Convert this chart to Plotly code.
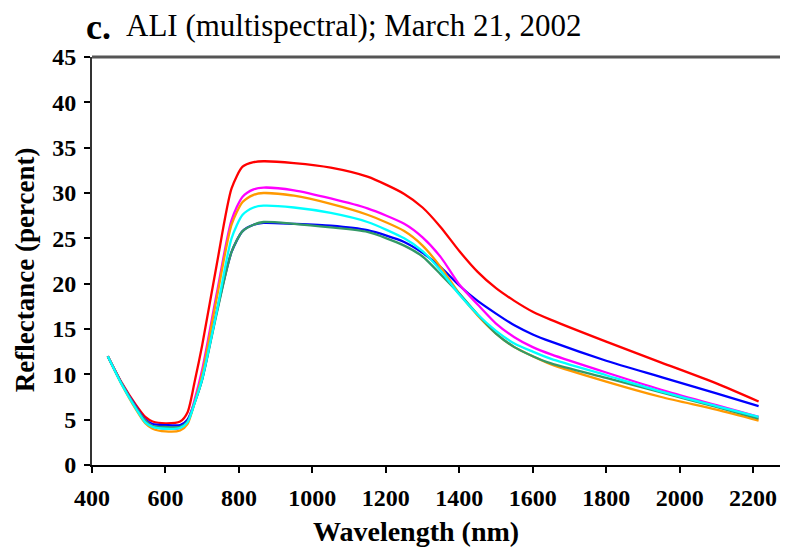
import plotly.graph_objects as go

wavelength = [443, 482, 520, 545, 565, 600, 640, 660, 680, 700, 740, 780, 810, 840, 867,
              950, 1050, 1150, 1250, 1300, 1350, 1400, 1450, 1500, 1550, 1600, 1650,
              1800, 1950, 2100, 2215]

red = [12.0, 9.0, 6.6, 5.3, 4.8, 4.6, 4.8, 5.8, 9.3, 13.2, 22.2, 30.5, 32.9, 33.4, 33.5,
       33.3, 32.8, 31.8, 29.9, 28.4, 26.2, 23.6, 21.3, 19.5, 18.1, 16.9, 16.0,
       13.6, 11.3, 9.0, 7.0]
magenta = [12.0, 8.9, 6.3, 4.9, 4.3, 4.0, 4.1, 4.7, 7.3, 10.5, 19.0, 27.0, 29.6, 30.4, 30.6,
           30.3, 29.4, 28.3, 26.6, 25.1, 22.9, 19.9, 17.7, 15.6, 14.1, 13.0, 12.2,
           10.2, 8.3, 6.6, 5.3]
orange = [12.0, 8.8, 6.1, 4.6, 4.0, 3.7, 3.8, 4.5, 7.0, 10.0, 18.5, 26.5, 29.0, 29.8, 30.0,
          29.7, 28.8, 27.6, 25.8, 24.2, 21.8, 18.9, 16.5, 14.5, 13.0, 12.0, 11.1,
          9.2, 7.5, 6.1, 4.9]
cyan = [12.0, 8.8, 6.2, 4.7, 4.2, 4.0, 4.1, 4.7, 6.9, 9.5, 17.0, 25.0, 27.6, 28.4, 28.6,
        28.4, 27.8, 26.8, 25.0, 23.6, 21.4, 18.8, 16.6, 14.8, 13.4, 12.5, 11.7,
        9.9, 8.1, 6.5, 5.3]
blue = [12.0, 8.9, 6.4, 5.0, 4.5, 4.4, 4.4, 5.0, 7.0, 9.5, 17.0, 23.5, 25.8, 26.5, 26.7,
        26.6, 26.4, 25.9, 24.6, 23.4, 21.8, 19.8, 18.1, 16.7, 15.4, 14.4, 13.6,
        11.5, 9.7, 7.9, 6.5]
green = [12.0, 8.9, 6.3, 4.9, 4.3, 4.2, 4.2, 4.8, 6.9, 9.4, 16.8, 23.5, 25.8, 26.5, 26.8,
         26.6, 26.2, 25.7, 24.2, 23.0, 21.0, 18.9, 16.6, 14.5, 13.0, 12.0, 11.2,
         9.6, 8.0, 6.4, 5.1]

series = [
    ("Red", red, "#FF0000"),
    ("Blue", blue, "#0000FF"),
    ("Magenta", magenta, "#FF00FF"),
    ("Orange", orange, "#FF9900"),
    ("Green", green, "#339966"),
    ("Cyan", cyan, "#00FFFF"),
]

x_ticks = [400, 600, 800, 1000, 1200, 1400, 1600, 1800, 2000, 2200]
y_ticks = [0, 5, 10, 15, 20, 25, 30, 35, 40, 45]

fig = go.Figure()
for name, vals, col in series:
    fig.add_trace(go.Scatter(
        x=wavelength, y=vals, mode="lines", name=name,
        line=dict(color=col, width=2.3, shape="spline", smoothing=0.7),
        showlegend=False,
    ))

serif = "Liberation Serif, Times New Roman, serif"
fig.update_layout(
    width=788, height=547,
    margin=dict(l=84, r=8, t=49, b=90),
    paper_bgcolor="white", plot_bgcolor="white",
    font=dict(family=serif, color="black"),
    xaxis=dict(
        range=[400, 2295], tickvals=x_ticks, ticktext=[str(v) for v in x_ticks],
        showgrid=False, zeroline=False, showline=True, linecolor="black", linewidth=2,
        ticks="outside", ticklen=6, tickwidth=1.5, tickcolor="black",
        tickfont=dict(family=serif, size=24, color="black", weight="bold"),
        ticklabelstandoff=4,
    ),
    yaxis=dict(
        range=[0, 45], tickvals=y_ticks,
        showgrid=False, zeroline=False, showline=True, linecolor="#333333", linewidth=2,
        ticks="outside", ticklen=6, tickwidth=1.5, tickcolor="black",
        tickfont=dict(family=serif, size=24, color="black", weight="bold"),
        ticklabelstandoff=3,
    ),
    shapes=[dict(type="line", xref="paper", yref="paper", x0=0, x1=1, y0=1, y1=1,
                 line=dict(color="#555555", width=3))],
    annotations=[
        dict(text="<b>c.</b>", xref="paper", yref="paper", x=-0.012, y=1.0, yshift=8,
             xanchor="left", yanchor="bottom", showarrow=False,
             font=dict(family=serif, size=36, color="black")),
        dict(text="ALI (multispectral); March 21, 2002", xref="paper", yref="paper",
             x=0.046, y=1.0, yshift=12, xanchor="left", yanchor="bottom", showarrow=False,
             font=dict(family=serif, size=31, color="black")),
        dict(text="<b>Wavelength (nm)</b>", xref="paper", yref="paper", x=0.4655, y=0,
             yshift=-49, xanchor="center", yanchor="top", showarrow=False,
             font=dict(family=serif, size=28, color="black")),
        dict(text="<b>Reflectance (percent)</b>", xref="paper", yref="paper", x=-0.096, y=0.478,
             xanchor="center", yanchor="middle", textangle=-90, showarrow=False,
             font=dict(family=serif, size=27, color="black")),
    ],
)

fig.write_html("out.html")
